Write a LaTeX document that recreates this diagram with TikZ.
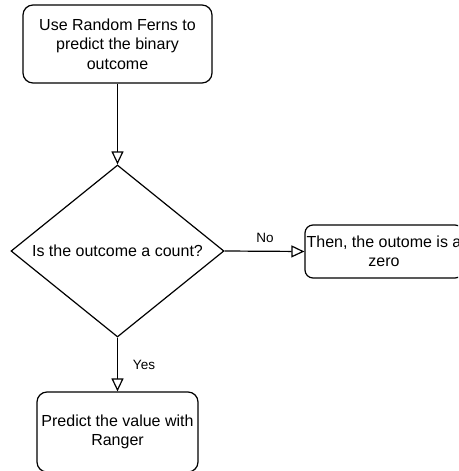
\documentclass[tikz,border=0pt]{standalone}
\usepackage{fontspec}
\setmainfont{Liberation Sans}
\usetikzlibrary{shapes.geometric,arrows.meta}
\begin{document}
\begin{tikzpicture}[x=1pt,y=-1pt,
  txt/.style={font=\fontsize{16}{19.5}\selectfont},
  box/.style={txt, draw, rounded corners=10pt, line width=1.2pt, align=center, inner sep=0pt},
  dec/.style={txt, draw, diamond, line width=1.2pt, inner sep=0pt, minimum width=213pt, minimum height=172pt, shape aspect=1.238},
  conn/.style={draw, line width=1.2pt, -{Triangle[open,length=13pt,width=12pt]}},
  lbl/.style={font=\fontsize{13.5}{16}\selectfont, inner sep=0pt}]
\useasboundingbox (0,0) rectangle (458,471);
\clip (0,0) rectangle (458,471);
\fill[white] (0,0) rectangle (458,471);
\node[box, minimum width=189pt, minimum height=78pt] (a) at (117.5,44) {Use Random Ferns to\\predict the binary\\outcome};
\node[dec] (d) at (117.5,251) {Is the outcome a count?};
\node[box, rounded corners=8pt, minimum width=158pt, minimum height=53pt] (r) at (384,251.5) {Then, the outome is a\\zero};
\node[box, minimum width=161pt, minimum height=80pt] (b) at (117.5,432) {Predict the value with\\Ranger};
\draw[conn] (a.south) -- (d.north);
\draw[conn] (d.east) -- (r.west);
\draw[conn] (d.south) -- (b.north);
\node[lbl] (no) at (265,238) {No};
\node[lbl] (yes) at (144,365) {Yes};
\end{tikzpicture}
\end{document}
